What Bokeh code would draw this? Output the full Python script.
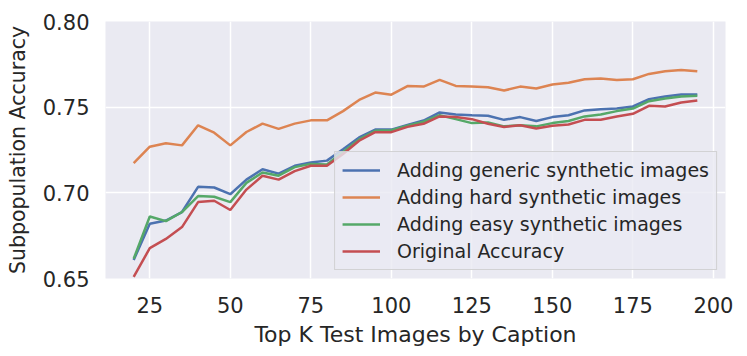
from bokeh.plotting import figure
from bokeh.models import Legend, LegendItem, FixedTicker, Range1d
from bokeh.embed import file_html
from bokeh.resources import INLINE

top_k = [20, 25, 30, 35, 40, 45, 50, 55, 60, 65, 70, 75, 80, 85, 90, 95, 100,
         105, 110, 115, 120, 125, 130, 135, 140, 145, 150, 155, 160, 165, 170,
         175, 180, 185, 190, 195]

generic = [0.6608, 0.6819, 0.6838, 0.6888, 0.7035, 0.7031, 0.6992, 0.7077, 0.7138,
           0.7112, 0.7158, 0.7177, 0.7188, 0.7254, 0.7323, 0.7369, 0.7369, 0.7396,
           0.7422, 0.7469, 0.7457, 0.7453, 0.7450, 0.7426, 0.7442, 0.7419, 0.7442,
           0.7453, 0.7481, 0.7488, 0.7492, 0.7504, 0.7547, 0.7562, 0.7574, 0.7574]

hard = [0.7173, 0.7269, 0.7289, 0.7277, 0.7394, 0.7351, 0.7277, 0.7355, 0.7404,
        0.7373, 0.7404, 0.7423, 0.7423, 0.7477, 0.7542, 0.7585, 0.7573, 0.7623,
        0.7620, 0.7659, 0.7624, 0.7620, 0.7616, 0.7597, 0.7620, 0.7609, 0.7632,
        0.7643, 0.7663, 0.7667, 0.7659, 0.7663, 0.7694, 0.7709, 0.7717, 0.7709]

easy = [0.6615, 0.6862, 0.6835, 0.6888, 0.6981, 0.6977, 0.6946, 0.7058, 0.7119,
        0.7100, 0.7150, 0.7169, 0.7165, 0.7238, 0.7312, 0.7362, 0.7365, 0.7392,
        0.7415, 0.7453, 0.7430, 0.7407, 0.7411, 0.7388, 0.7395, 0.7388, 0.7407,
        0.7419, 0.7446, 0.7457, 0.7477, 0.7492, 0.7535, 0.7550, 0.7562, 0.7566]

original = [0.6510, 0.6677, 0.6731, 0.6800, 0.6946, 0.6954, 0.6900, 0.7019, 0.7100,
            0.7077, 0.7127, 0.7158, 0.7158, 0.7227, 0.7304, 0.7354, 0.7354, 0.7385,
            0.7403, 0.7446, 0.7442, 0.7430, 0.7403, 0.7384, 0.7395, 0.7376, 0.7391,
            0.7399, 0.7426, 0.7426, 0.7446, 0.7461, 0.7508, 0.7504, 0.7527, 0.7539]

labels = ["Adding generic synthetic images", "Adding hard synthetic images",
          "Adding easy synthetic images", "Original Accuracy"]
colors = ["#4c72b0", "#dd8452", "#55a868", "#c44e52"]
x_ticks = [25, 50, 75, 100, 125, 150, 175, 200]
y_ticks = [0.65, 0.70, 0.75, 0.80]

p = figure(width=740, height=350, output_backend="svg", toolbar_location=None,
           x_range=Range1d(11.25, 203.75), y_range=Range1d(0.65, 0.80),
           min_border_left=105, min_border_right=15, min_border_top=21,
           min_border_bottom=72)

p.background_fill_color = "#eaeaf2"
p.border_fill_color = "white"
p.outline_line_color = None

for ax in (p.xaxis[0], p.yaxis[0]):
    ax.axis_line_color = None
    ax.major_tick_line_color = None
    ax.minor_tick_line_color = None
    ax.major_tick_out = 0
    ax.major_tick_in = 0
    ax.minor_tick_out = 0
    ax.minor_tick_in = 0
    ax.major_label_text_font = "DejaVu Sans"
    ax.major_label_text_font_size = "21px"
    ax.major_label_text_color = "#262626"
    ax.axis_label_text_font = "DejaVu Sans"
    ax.axis_label_text_font_style = "normal"
    ax.axis_label_text_color = "#262626"

p.xaxis.axis_label_text_font_size = "22px"
p.yaxis.axis_label_text_font_size = "20.5px"
p.xaxis.ticker = FixedTicker(ticks=x_ticks)
p.yaxis.ticker = FixedTicker(ticks=y_ticks)
p.yaxis.major_label_overrides = {v: f"{v:.2f}" for v in y_ticks}
p.xaxis.axis_label = "Top K Test Images by Caption"
p.yaxis.axis_label = "Subpopulation Accuracy"
p.xaxis.major_label_standoff = 18
p.yaxis.major_label_standoff = 16
p.xaxis.axis_label_standoff = 6
p.yaxis.axis_label_standoff = 10

p.xgrid.ticker = FixedTicker(ticks=x_ticks)
p.ygrid.ticker = FixedTicker(ticks=y_ticks)
p.grid.grid_line_color = "white"
p.grid.grid_line_width = 1.5

items = []
for series, lab, col in zip([generic, hard, easy, original], labels, colors):
    r = p.line(top_k, series, line_color=col, line_width=2.5)
    items.append(LegendItem(label=lab, renderers=[r]))

legend = Legend(items=items, location="bottom_right")
legend.label_text_font = "DejaVu Sans"
legend.label_text_font_size = "19px"
legend.label_text_color = "#262626"
legend.glyph_width = 38
legend.glyph_height = 22
legend.label_height = 22
legend.label_standoff = 17
legend.spacing = 5
legend.padding = 7
legend.margin = 8
legend.background_fill_color = "#eaeaf2"
legend.background_fill_alpha = 0.8
legend.border_line_color = "#cccccc"
legend.border_line_alpha = 0.8
p.add_layout(legend)

open("out.html", "w").write(file_html(p, INLINE))
